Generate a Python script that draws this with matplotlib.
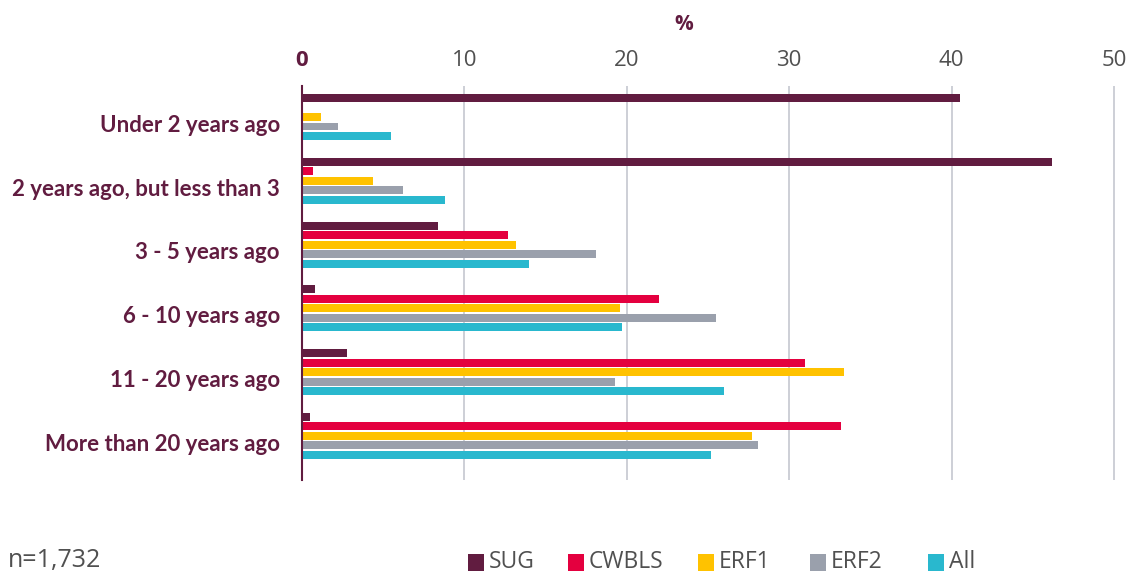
import matplotlib.pyplot as plt
from matplotlib.patches import Rectangle
import numpy as np

plt.rcParams['font.family'] = ['Open Sans', 'DejaVu Sans']

# data
categories = ["Under 2 years ago", "2 years ago, but less than 3", "3 - 5 years ago",
              "6 - 10 years ago", "11 - 20 years ago", "More than 20 years ago"]
series_names = ["SUG", "CWBLS", "ERF1", "ERF2", "All"]
sug = [40.5, 46.2, 8.4, 0.8, 2.8, 0.5]
cwbls = [0.0, 0.7, 12.7, 22.0, 31.0, 33.2]
erf1 = [1.2, 4.4, 13.2, 19.6, 33.4, 27.7]
erf2 = [2.2, 6.2, 18.1, 25.5, 19.3, 28.1]
all_ = [5.5, 8.8, 14.0, 19.7, 26.0, 25.2]
xticks = [0, 10, 20, 30, 40, 50]

colors = ["#611C40", "#E4003F", "#FFC200", "#9AA0AC", "#29B8CE"]
MAROON = "#611C40"
GREY_TXT = "#505050"

W, H = 1127, 576
fig = plt.figure(figsize=(W / 100, H / 100), dpi=100)
px_per_unit = 16.24
ax = fig.add_axes([302 / W, 1 - 480 / H, 50.2 * px_per_unit / W, (480 - 86) / H])

y = np.arange(len(categories))
pitch = 0.149
height = 0.125
for k, (vals, col) in enumerate(zip([sug, cwbls, erf1, erf2, all_], colors)):
    ax.barh(y + (k - 2) * pitch, vals, height=height, color=col, zorder=3)

ax.set_xlim(0, 50.2)
ax.set_ylim(5.69, -0.486)

ax.xaxis.tick_top()
ax.set_xticks(xticks)
ax.set_xticklabels([str(t) for t in xticks], fontsize=16, color=GREY_TXT)
ax.tick_params(axis='x', length=0, pad=10.5)
lbl0 = ax.get_xticklabels()[0]
lbl0.set_color(MAROON)
lbl0.set_fontweight('bold')

ax.set_yticks(y + 0.1)
ax.set_yticklabels(categories, fontsize=16, fontweight='bold', color=MAROON,
                   family=['Lato', 'DejaVu Sans'])
ax.tick_params(axis='y', length=0, pad=16)

ax.grid(axis='x', color='#c9ccd3', linewidth=1.3, zorder=0)
ax.set_axisbelow(True)
for s in ['top', 'right', 'bottom']:
    ax.spines[s].set_visible(False)
ax.spines['left'].set_color(MAROON)
ax.spines['left'].set_linewidth(1.5)
ax.spines['left'].set_zorder(4)

fig.text(684 / W, 1 - 24 / H, "%", fontsize=15, fontweight='bold', color=MAROON,
         ha='center', va='center')

fig.text(8 / W, 1 - 561 / H, "n=1,732", fontsize=18, color=GREY_TXT,
         ha='left', va='center')

# legend, laid out by hand
leg_x = [468, 568, 698, 810, 928]
for name, col, lx in zip(series_names, colors, leg_x):
    fig.add_artist(Rectangle((lx / W, 1 - 571 / H), 16 / W, 17 / H,
                             facecolor=col, edgecolor='none', transform=fig.transFigure))
    fig.text((lx + 21) / W, 1 - 562 / H, name, fontsize=16.5, color=GREY_TXT,
             ha='left', va='center')

fig.savefig("out.png", dpi=100, facecolor='white')
